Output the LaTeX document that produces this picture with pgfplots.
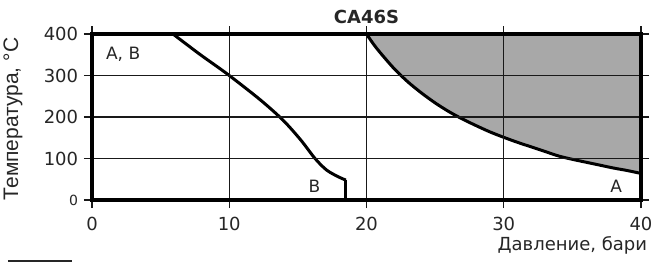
\documentclass[border=0pt]{standalone}
\usepackage{fontspec}
\setmainfont{DejaVu Sans}
\newfontfamily\arialfont{Liberation Sans}
\usepackage{pgfplots}
\pgfplotsset{compat=1.18}
\begin{document}
\fontsize{17bp}{20bp}\selectfont
\begin{tikzpicture}
\path[use as bounding box] (-92bp,-62bp) rectangle (562bp,200bp);
\begin{axis}[
  scale only axis, width=549bp, height=166bp,
  xmin=0, xmax=40, ymin=0, ymax=400,
  xtick={0,10,20,30,40}, ytick={0,100,200,300,400},
  yticklabels={{\fontsize{14bp}{16bp}\selectfont 0},100,200,300,400},
  grid=major, major grid style={black!90, line width=1.3bp},
  axis line style={black, line width=3.4bp},
  tick style={black!90, line width=1.4bp}, tick align=outside, major tick length=8bp,
  axis on top,
  /pgf/number format/assume math mode=true,
  ticklabel style={font=\fontsize{18bp}{21bp}\selectfont, text=black!85},
  xticklabel style={yshift=-3bp},
  clip=false,
]
\addplot[fill=black!34, draw=none] coordinates {
 (20,400) (20.5,376) (21,355) (22,317) (23,285) (24,258) (25,234) (26,213) (27,195) (28,179) (29,164) (30,151) (31,139) (32,128) (33,117) (34,106) (35,98) (36,91) (37,84) (38,77) (39,71) (40,64) (40,400)} -- cycle;
\addplot[black, line width=3bp, smooth, tension=0.5] coordinates {
 (20,400) (20.5,376) (21,355) (22,317) (23,285) (24,258) (25,234) (26,213) (27,195) (28,179) (29,164) (30,151) (31,139) (32,128) (33,117) (34,106) (35,98) (36,91) (37,84) (38,77) (39,71) (40,64)};
\addplot[black, line width=3bp, smooth, tension=0.5] coordinates {
 (5.9,400) (7.9,350) (9.8,305) (12.2,243) (13.9,193) (15.2,145) (16.25,100) (17.1,72) (18.0,55) (18.5,48)};
\addplot[black, line width=3bp, line join=round] coordinates {(18.5,48) (18.5,0)};
\draw[black, line width=3.4bp] (rel axis cs:0,0) rectangle (rel axis cs:1,1);
\node[anchor=west, text=black!85] at (axis cs:0.6,352) {A, B};
\node[text=black!85] at (axis cs:16.2,34) {B};
\node[text=black!85] at (axis cs:38.2,34) {A};
\node[font=\bfseries\fontsize{18bp}{20bp}\selectfont, text=black!85] at (axis cs:20,441) {CA46S};
\end{axis}
\node[rotate=90, text=black!85, font=\arialfont\fontsize{21bp}{24bp}\selectfont] at (-79bp,81bp) {Температура, °C};
\node[anchor=east, text=black!85, font=\fontsize{18bp}{21bp}\selectfont] at (561bp,-45bp) {Давление, бари};
\draw[black!85, line width=2bp] (-84bp,-61bp) -- (-20bp,-61bp);
\end{tikzpicture}
\end{document}
